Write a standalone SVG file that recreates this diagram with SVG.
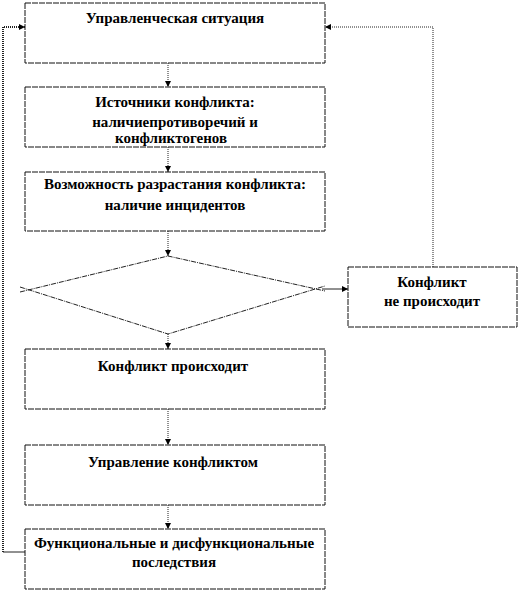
<svg xmlns="http://www.w3.org/2000/svg" width="520" height="593" viewBox="0 0 520 593">
<style>
.box{fill:#fff;stroke:#111;stroke-width:1;stroke-dasharray:6 1}
.dia{fill:none;stroke:#222;stroke-width:1;stroke-dasharray:5 1 1 1}
.con{fill:none;stroke:#222;stroke-width:1;stroke-dasharray:1 1}
.sol{fill:none;stroke:#222;stroke-width:1}
text{font-family:"Liberation Serif","Times New Roman","DejaVu Serif",serif;font-weight:bold;font-size:15px;fill:#000;text-anchor:middle}
</style>
<defs>
<marker id="ah" viewBox="0 0 10 10" refX="10" refY="5" markerWidth="6" markerHeight="6" orient="auto" markerUnits="userSpaceOnUse">
<path d="M0,0 L10,5 L0,10 z" fill="#000"/>
</marker>
</defs>
<g id="connectors">
<line class="con" x1="168" y1="63" x2="168" y2="87" marker-end="url(#ah)"/>
<line class="con" x1="168" y1="147" x2="168" y2="172" marker-end="url(#ah)"/>
<line class="con" x1="168" y1="231" x2="168" y2="256" marker-end="url(#ah)"/>
<line class="con" x1="168" y1="334" x2="168" y2="349" marker-end="url(#ah)"/>
<line class="con" x1="168" y1="409" x2="168" y2="445" marker-end="url(#ah)"/>
<line class="con" x1="168" y1="505" x2="168" y2="529" marker-end="url(#ah)"/>
<line class="sol" x1="322" y1="289" x2="348" y2="289" marker-end="url(#ah)"/>
<polyline class="con" points="433,267 433,27 325,27" marker-end="url(#ah)"/>
<polyline class="sol" points="25,552 3,552"/>
<polyline class="con" points="3,552 3,27 25,27" marker-end="url(#ah)" style="stroke-width:2"/>
</g>
<g id="n1">
<rect class="box" x="25" y="3" width="300" height="60"/>
<text x="175" y="23">Управленческая ситуация</text>
</g>
<g id="n2">
<rect class="box" x="25" y="87" width="300" height="60"/>
<text x="175" y="107">Источники конфликта:</text>
<text x="175" y="127">наличиепротиворечий  и</text>
<text x="171" y="143">конфликтогенов</text>
</g>
<g id="n3">
<rect class="box" x="25" y="172" width="300" height="59"/>
<text x="175" y="189">Возможность разрастания конфликта:</text>
<text x="175" y="210">наличие инцидентов</text>
</g>
<g id="diamond">
<polyline class="dia" points="20,292 168,256 325,291"/>
<polyline class="dia" points="20,287 168,334 325,286"/>
</g>
<g id="n_no">
<rect class="box" x="348" y="267" width="169" height="60"/>
<text x="432" y="287">Конфликт</text>
<text x="432" y="306">не происходит</text>
</g>
<g id="n4">
<rect class="box" x="25" y="349" width="300" height="60"/>
<text x="173" y="371">Конфликт происходит</text>
</g>
<g id="n5">
<rect class="box" x="25" y="445" width="300" height="60"/>
<text x="173" y="467">Управление конфликтом</text>
</g>
<g id="n6">
<rect class="box" x="25" y="529" width="300" height="60"/>
<text x="174" y="548">Функциональные и дисфункциональные</text>
<text x="174" y="567">последствия</text>
</g>
</svg>
